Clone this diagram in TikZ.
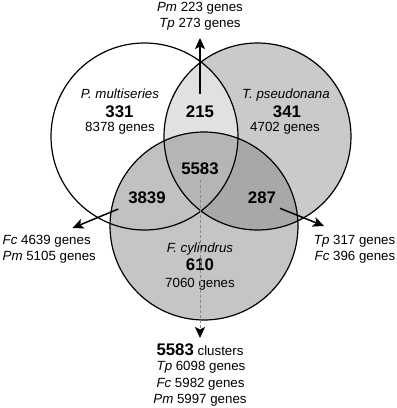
\documentclass[tikz,border=0pt]{standalone}
\usepackage{fontspec}
\setmainfont{Liberation Sans}
\usetikzlibrary{arrows.meta}
\definecolor{cRight}{HTML}{C9CACC}
\definecolor{cLow}{HTML}{C5C5C7}
\definecolor{cPT}{HTML}{E0E1E3}
\definecolor{cPF}{HTML}{C0C1C3}
\definecolor{cTF}{HTML}{A7A8AA}
\definecolor{cAll}{HTML}{B4B5B7}
\definecolor{cDash}{HTML}{8A8A8A}
\tikzset{
  txt/.style={anchor=base, inner sep=0pt, font=\fontsize{13.3}{15}\selectfont},
  txtl/.style={txt, anchor=base west},
  txtr/.style={txt, anchor=base east},
  num/.style={anchor=base, inner sep=0pt, font=\fontsize{16.8}{19}\selectfont\bfseries},
  ring/.style={draw=black, line width=1.2pt},
  arr/.style={line width=1.5pt, -{Stealth[length=11pt,width=10pt,inset=2.5pt]}},
  darr/.style={cDash, line width=0.9pt, dash pattern=on 3pt off 2pt, -{Stealth[length=11pt,width=10pt,inset=2.5pt,black]}}
}
\def\cP{(144.5,136.5) circle (93.5)}
\def\cT{(257.5,136.5) circle (93.5)}
\def\cF{(204,226) circle (94)}
\begin{document}
\begin{tikzpicture}[x=1pt,y=-1pt]
\useasboundingbox (0,0) rectangle (397,408);
% fills
\fill[white] \cP;
\fill[cRight] \cT;
\fill[cLow] \cF;
\begin{scope}\clip \cP; \fill[cPT] \cT; \end{scope}
\begin{scope}\clip \cP; \fill[cPF] \cF; \end{scope}
\begin{scope}\clip \cT; \fill[cTF] \cF; \end{scope}
\begin{scope}\clip \cP; \clip \cT; \fill[cAll] \cF; \end{scope}
\draw[ring] \cP;
\draw[ring] \cT;
\draw[ring] \cF;

% top labels
\node[txt] (top1) at (200,11) {\textit{Pm} 223 genes};
\node[txt] (top2) at (200,27) {\textit{Tp} 273 genes};
% P. multiseries
\node[txt] (pmName) at (120,98.3) {\textit{P. multiseries}};
\node[num] (pmNum) at (119.5,117.5) {331};
\node[txt] (pmGenes) at (120,131.5) {8378 genes};
% T. pseudonana
\node[txt] (tpName) at (286,98.3) {\textit{T. pseudonana}};
\node[num] (tpNum) at (287,117.5) {341};
\node[txt] (tpGenes) at (285,131.5) {4702 genes};
% intersections
\node[num] (pt) at (200,117.5) {215};
\node[num] (all) at (200,174.5) {5583};
\node[num] (pf) at (147,203.5) {3839};
\node[num] (tf) at (262,203.5) {287};
% F. cylindrus
\node[txt] (fcName) at (200,252.3) {\textit{F. cylindrus}};
\node[num] (fcNum) at (200,270.7) {610};
\node[txt] (fcGenes) at (200,287.3) {7060 genes};
% side labels
\node[txtl] (l1) at (2.5,244.3) {\textit{Fc} 4639 genes};
\node[txtl] (l2) at (2.5,260.3) {\textit{Pm} 5105 genes};
\node[txtr] (r1) at (395.5,244.3) {\textit{Tp} 317 genes};
\node[txtr] (r2) at (395.5,260.3) {\textit{Fc} 396 genes};
% bottom labels
\node[txt] (b1) at (200,355) {{\fontsize{16.8}{19}\selectfont\bfseries 5583} clusters};
\node[txt] (b2) at (201,370.8) {\textit{Tp} 6098 genes};
\node[txt] (b3) at (200.5,387.2) {\textit{Fc} 5982 genes};
\node[txt] (b4) at (200,403.3) {\textit{Pm} 5997 genes};

% arrows
\coordinate (tS) at (200,94);
\coordinate (tE) at (200,38);
\coordinate (lS) at (118.3,209);
\coordinate (lE) at (72.5,228);
\coordinate (rS) at (280,208.3);
\coordinate (rE) at (324,226);
\coordinate (dS) at (200,180);
\coordinate (dE) at (200,338);
\draw[arr] (tS) -- (tE);
\draw[arr] (lS) -- (lE);
\draw[arr] (rS) -- (rE);
\draw[darr] (dS) -- (dE);
\end{tikzpicture}
\end{document}
